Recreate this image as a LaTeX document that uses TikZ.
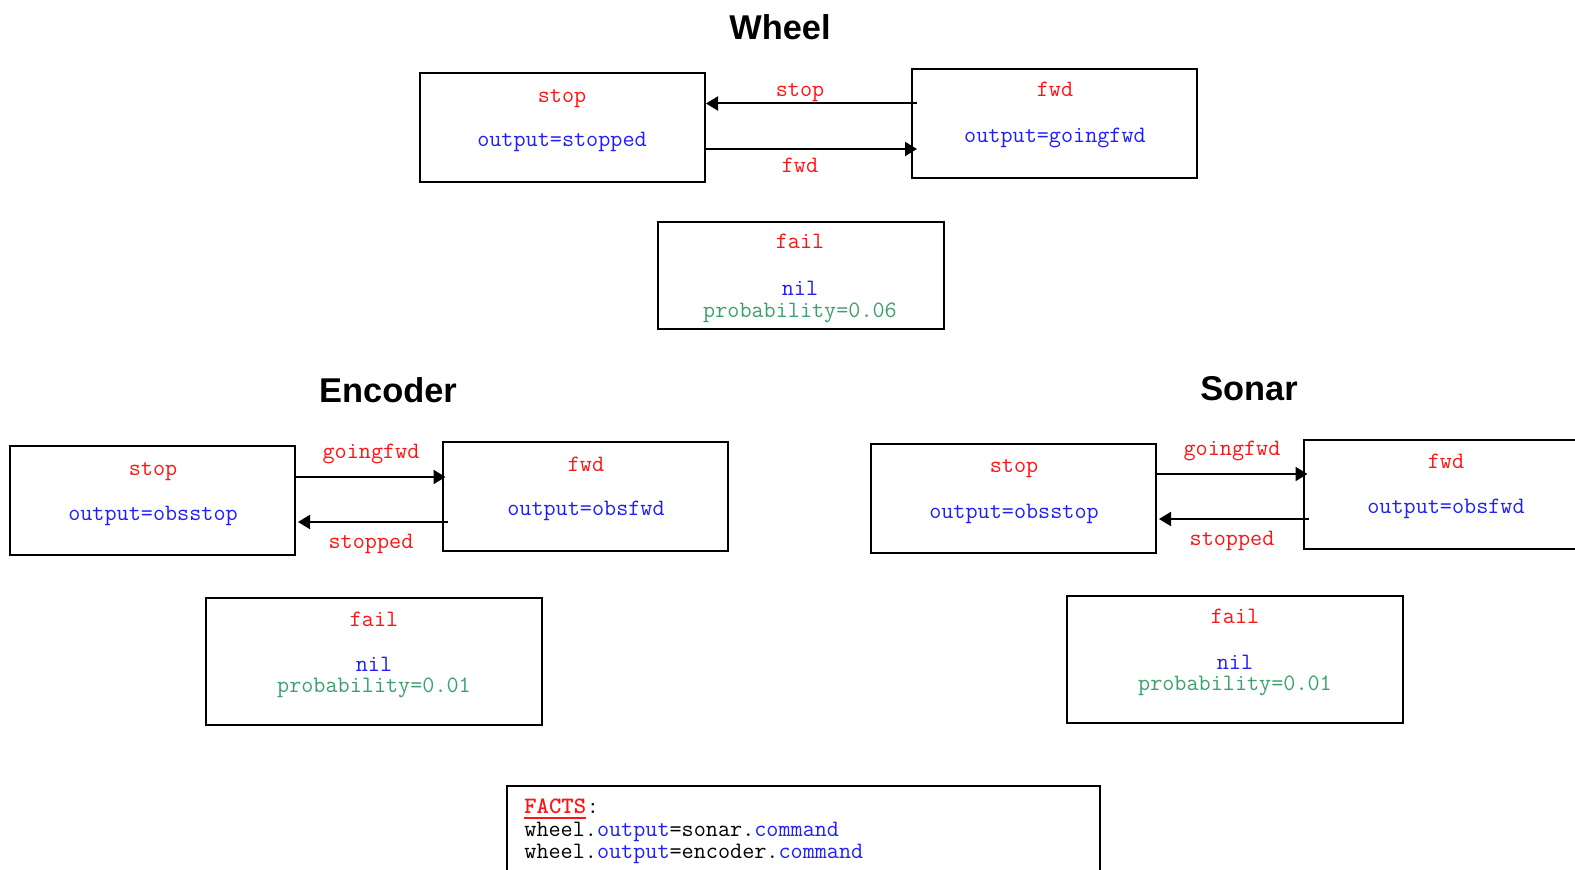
\documentclass[tikz,border=0pt]{standalone}
\usepackage{fontspec}
\setmainfont{Liberation Sans}
\usetikzlibrary{calc,arrows.meta}
\definecolor{statered}{RGB}{255,20,20}
\definecolor{outblue}{RGB}{30,30,255}
\definecolor{probgreen}{RGB}{60,160,110}

\tikzset{
  mono/.style={font=\ttfamily\fontsize{11.75}{13}\selectfont},
  txt/.style={mono, anchor=base, inner sep=0pt},
  sname/.style={txt, text=statered},
  sout/.style={txt, text=outblue},
  sprob/.style={txt, text=probgreen},
  title/.style={font=\bfseries\fontsize{17.2}{20}\selectfont, anchor=base, inner sep=0pt},
  frame/.style={draw=black, line width=1pt, inner sep=0pt},
  statebox/.style={frame, minimum width=142.5pt, minimum height=54.5pt},
  wfailbox/.style={frame, minimum width=143pt, minimum height=53.5pt},
  failbox/.style={frame, minimum width=168pt, minimum height=63.5pt},
  factbox/.style={frame, minimum width=296.5pt, minimum height=60pt},
  arr/.style={line width=1pt, -{Triangle[length=6pt,width=7pt]}},
}

\begin{document}
\begin{tikzpicture}[x=0.5pt, y=-0.5pt]
\useasboundingbox (0,0) rectangle (1575,870);
\clip (0,0) rectangle (1575,870);

% ---------------- Wheel ----------------
\node[title] (wtitle) at (780,40) {Wheel};
\node[statebox] (wstop) at (562.5,128) {};
\node[statebox] (wfwd) at (1054.5,124) {};
\node[sname] (wstopn) at (562,103) {stop};
\node[sout]  (wstopo) at (562,147) {output=stopped};
\node[sname] (wfwdn) at (1055,97) {fwd};
\node[sout]  (wfwdo) at (1055,143) {output=goingfwd};
\draw[arr] ($(wfwd.west)+(6,-20.5)$) -- ($(wstop.east)+(0,-24.5)$);
\draw[arr] ($(wstop.east)+(0,21)$) -- ($(wfwd.west)+(6,25)$);
\node[sname] (wlstop) at (800,97) {stop};
\node[sname] (wlfwd) at (800,173) {fwd};
\node[wfailbox] (wfail) at (801,275.5) {};
\node[sname] (wfailn) at (800,249) {fail};
\node[sout]  (wfailo) at (800,296) {nil};
\node[sprob] (wfailp) at (800,318) {probability=0.06};

% ---------------- Encoder ----------------
\node[title] (etitle) at (388,403) {Encoder};
\node[statebox] (estop) at (152.5,501) {};
\node[statebox] (efwd) at (585,497) {};
\node[sname] (estopn) at (153,476) {stop};
\node[sout]  (estopo) at (153,521) {output=obsstop};
\node[sname] (efwdn) at (586,472) {fwd};
\node[sout]  (efwdo) at (586,516) {output=obsfwd};
\draw[arr] ($(estop.east)+(0,-24)$) -- ($(efwd.west)+(4,-20)$);
\draw[arr] ($(efwd.west)+(6,25)$) -- ($(estop.east)+(2,21)$);
\node[sname] (elgo) at (371,459) {goingfwd};
\node[sname] (elstop) at (371,549) {stopped};
\node[failbox] (efail) at (374,661.5) {};
\node[sname] (efailn) at (374,627) {fail};
\node[sout]  (efailo) at (374,672) {nil};
\node[sprob] (efailp) at (374,693) {probability=0.01};

% ---------------- Sonar ----------------
\node[title] (stitle) at (1249,401) {Sonar};
\node[statebox] (sstop) at (1013.5,499) {};
\node[statebox] (sfwd) at (1446,495) {};
\node[sname] (sstopn) at (1014,473) {stop};
\node[sout]  (sstopo) at (1014,519) {output=obsstop};
\node[sname] (sfwdn) at (1446,469) {fwd};
\node[sout]  (sfwdo) at (1446,514) {output=obsfwd};
\draw[arr] ($(sstop.east)+(0,-25)$) -- ($(sfwd.west)+(5,-21)$);
\draw[arr] ($(sfwd.west)+(6,24)$) -- ($(sstop.east)+(2,20)$);
\node[sname] (slgo) at (1232,456) {goingfwd};
\node[sname] (slstop) at (1232,546) {stopped};
\node[failbox] (sfail) at (1235,659.5) {};
\node[sname] (sfailn) at (1235,624) {fail};
\node[sout]  (sfailo) at (1235,670) {nil};
\node[sprob] (sfailp) at (1235,691) {probability=0.01};

% ---------------- Facts ----------------
\node[factbox] (facts) at (803.5,846) {};
\node[txt, anchor=base west, text=statered, font=\ttfamily\bfseries\fontsize{11.75}{13}\selectfont] (fname) at (524,813.5) {FACTS};
\node[txt, anchor=base west] (fcolon) at (fname.base east) {:};
\draw[statered, line width=0.8pt] ($(fname.base west)+(0,4.5)$) -- ($(fname.base east)+(0,4.5)$);
\node[txt, anchor=base west] (fact1) at (524,836.5) {wheel.\textcolor{outblue}{output}=sonar.\textcolor{outblue}{command}};
\node[txt, anchor=base west] (fact2) at (524,858.5) {wheel.\textcolor{outblue}{output}=encoder.\textcolor{outblue}{command}};
\end{tikzpicture}
\end{document}
